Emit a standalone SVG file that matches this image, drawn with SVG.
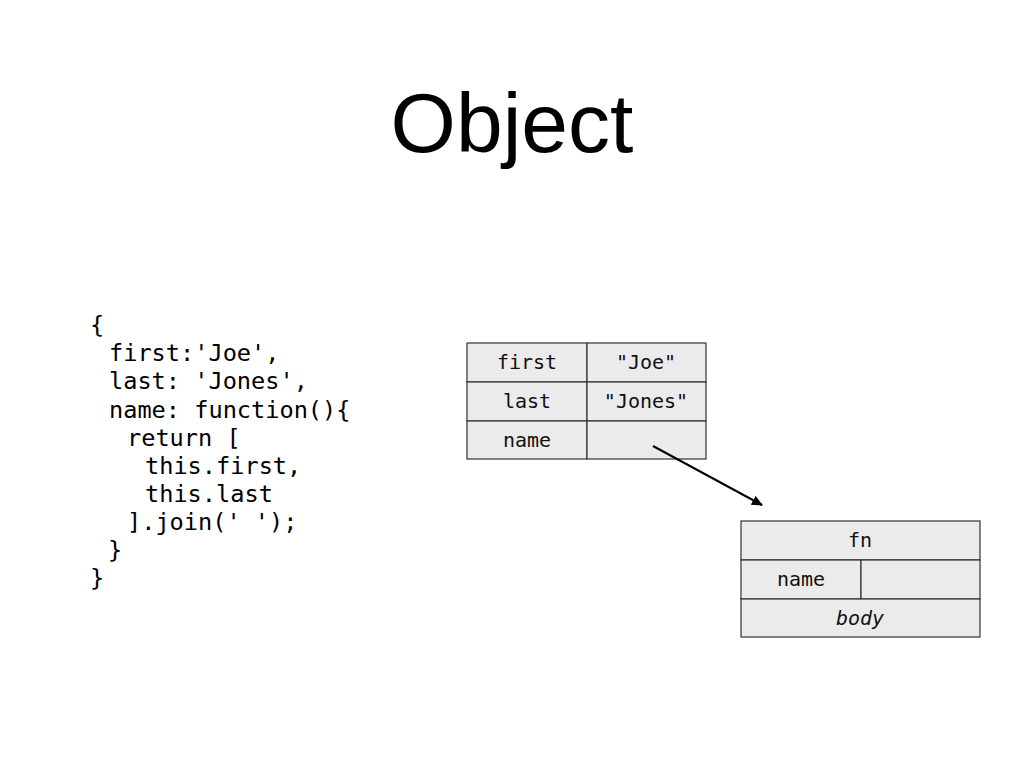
<svg xmlns="http://www.w3.org/2000/svg" width="1024" height="768" viewBox="0 0 1024 768">
<style>
.cell{fill:#ebebeb;stroke:#333;stroke-width:1.2}
.t{font-family:"DejaVu Sans Mono",monospace;font-size:20px;fill:#111;text-anchor:middle}
.code{font-family:"DejaVu Sans Mono",monospace;font-size:23.6px;fill:#000}
</style>
<defs>
<marker id="ah" markerWidth="11" markerHeight="10" refX="10" refY="5" orient="auto" markerUnits="userSpaceOnUse">
<path d="M0,0 L11,5 L0,10 z" fill="#000"/>
</marker>
</defs>
<rect width="1024" height="768" fill="#fff"/>
<text x="512" y="152" font-family="Liberation Sans, Arial, sans-serif" font-size="84" text-anchor="middle" fill="#000">Object</text>
<g id="code" class="code">
<text x="90" y="333">{</text>
<text x="109" y="361">first:'Joe',</text>
<text x="109" y="389">last: 'Jones',</text>
<text x="109" y="418">name: function(){</text>
<text x="127" y="446">return [</text>
<text x="145" y="474">this.first,</text>
<text x="145" y="502">this.last</text>
<text x="127" y="530">].join(' ');</text>
<text x="108" y="558">}</text>
<text x="90" y="586">}</text>
</g>
<g id="obj">
<rect class="cell" x="467" y="343" width="120" height="39"/>
<rect class="cell" x="587" y="343" width="119" height="39"/>
<rect class="cell" x="467" y="382" width="120" height="39"/>
<rect class="cell" x="587" y="382" width="119" height="39"/>
<rect class="cell" x="467" y="421" width="120" height="38"/>
<rect class="cell" x="587" y="421" width="119" height="38"/>
<text class="t" x="527" y="369">first</text>
<text class="t" x="646" y="369">"Joe"</text>
<text class="t" x="527" y="408">last</text>
<text class="t" x="646" y="408">"Jones"</text>
<text class="t" x="527" y="447">name</text>
</g>
<g id="fn">
<rect class="cell" x="741" y="521" width="239" height="39"/>
<rect class="cell" x="741" y="560" width="120" height="39"/>
<rect class="cell" x="861" y="560" width="119" height="39"/>
<rect class="cell" x="741" y="599" width="239" height="38"/>
<text class="t" x="860" y="547">fn</text>
<text class="t" x="801" y="586">name</text>
<text class="t" x="860" y="625" font-style="oblique">body</text>
</g>
<g id="connectors">
<line x1="653" y1="446" x2="762" y2="505" stroke="#000" stroke-width="2" marker-end="url(#ah)"/>
</g>
</svg>
